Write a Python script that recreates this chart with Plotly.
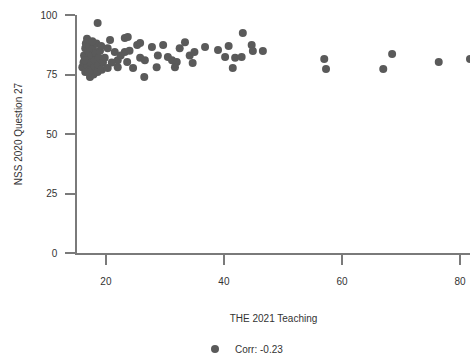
import plotly.graph_objects as go

teaching = [
    16.0, 16.2, 16.3, 16.5, 16.6, 16.8, 16.5, 16.8, 17.0, 17.0, 17.2, 17.3, 17.4, 17.5, 17.6, 17.8,
    17.9, 18.0, 18.1, 18.3, 18.4, 18.6, 18.7, 18.8, 19.0, 19.2, 18.6, 16.4, 17.1, 17.7, 19.5, 19.3,
    20.3, 20.7, 21.5, 19.8, 22.0, 23.2, 23.6, 20.3, 22.0, 24.6, 25.3, 23.2, 23.7, 21.0, 22.5, 24.0,
    26.5, 25.8, 26.6, 27.8, 28.8, 29.7, 28.6, 30.5, 31.2, 32.0, 32.5, 33.4, 34.2, 35.0, 34.7, 36.8,
    31.7, 25.8, 39.0, 40.2, 40.8, 41.9, 43.0, 41.5, 43.2, 44.7, 44.9, 46.6,
    57.0, 57.3, 68.5, 67.0, 76.4, 81.7,
]
nss_q27 = [
    78, 80, 83, 86, 88, 90, 76, 79, 82, 85, 87, 74, 77, 80, 83, 86,
    75, 78, 81, 84, 88, 76, 79, 82, 85, 87, 96.6, 81, 76, 89, 80, 77,
    86, 89.5, 84.5, 82, 81, 84.5, 80.3, 77.7, 78, 77.7, 87.4, 90.3, 90.8, 80, 83, 85,
    74, 82, 81, 86.6, 83, 87.4, 78, 82.4, 81, 80.3, 86, 88.6, 83, 84.5, 79.8, 86.6,
    78, 88.2, 85.3, 82.4, 87, 82, 82.4, 77.7, 92.4, 87.4, 84.9, 84.9,
    81.5, 77.3, 83.6, 77.3, 80.3, 81.5,
]
legend_label = "Corr: -0.23"
x_ticks = [20, 40, 60, 80]
y_ticks = [0, 25, 50, 75, 100]

fig = go.Figure()
fig.add_trace(go.Scatter(
    x=teaching, y=nss_q27, mode="markers", name=legend_label,
    marker=dict(size=8, color="#5a5a5a", line=dict(width=0)),
    cliponaxis=True, showlegend=True,
))

axis_common = dict(
    showgrid=False, zeroline=False, showline=True, linecolor="#7a7a7a", linewidth=1.5,
    ticks="outside", ticklen=10, tickwidth=1.5, tickcolor="#7a7a7a",
    tickfont=dict(size=10, color="#333333"),
)

fig.update_layout(
    width=470, height=358,
    margin=dict(l=77, r=0, t=15, b=105, autoexpand=False),
    paper_bgcolor="white", plot_bgcolor="white",
    font=dict(family="Liberation Sans, Arial, sans-serif", size=10, color="#333333"),
    xaxis=dict(range=[15.1, 81.7], tickvals=x_ticks, ticklabelstandoff=8,
               title=dict(text="THE 2021 Teaching", font=dict(size=10), standoff=29),
               **axis_common),
    yaxis=dict(range=[0, 100], tickvals=y_ticks, ticklabelstandoff=6,
               title=dict(text="NSS 2020 Question 27", font=dict(size=10), standoff=16),
               **axis_common),
    legend=dict(orientation="h", xref="container", yref="container",
                x=195 / 470, xanchor="left", y=9 / 358, yanchor="middle",
                font=dict(size=10, color="#333333"), itemsizing="trace", itemwidth=30),
)

fig.write_html("out.html")
